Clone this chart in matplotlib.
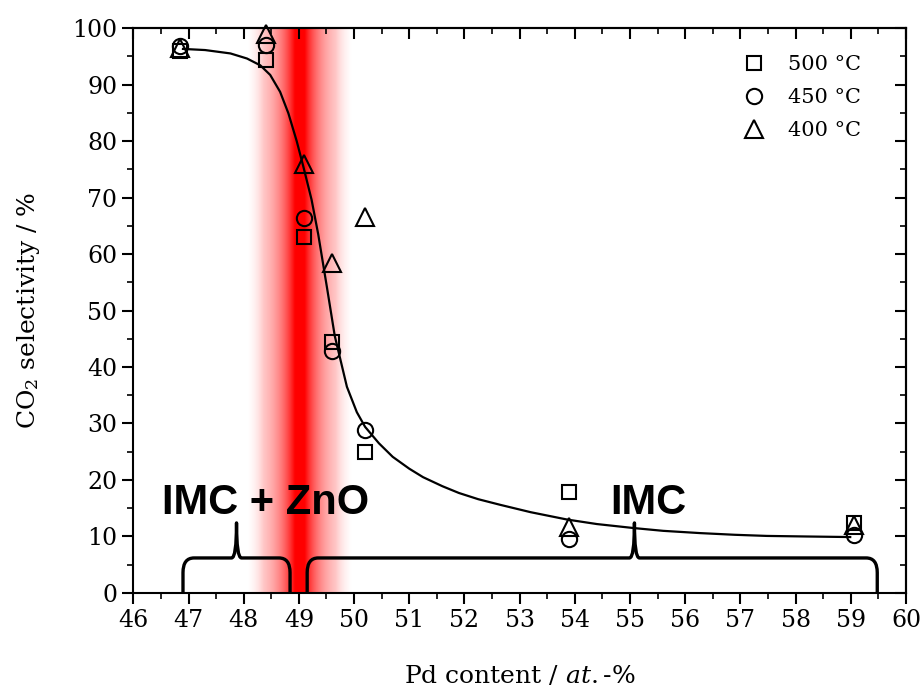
import matplotlib
matplotlib.use('Agg')
import matplotlib.pyplot as plt
import numpy as np
from matplotlib.path import Path
from matplotlib.patches import PathPatch

plt.rcParams['font.family'] = 'DejaVu Serif'
plt.rcParams['mathtext.fontset'] = 'dejavuserif'

# measured points: Pd content (at.-%) vs CO2 selectivity (%)
pd_content = [46.85, 48.4, 49.1, 49.6, 50.2, 53.9, 59.05]
sel_500 = [96.0, 94.4, 63.0, 44.4, 25.0, 17.9, 12.4]
sel_450 = [96.8, 97.0, 66.4, 42.8, 28.8, 9.6, 10.2]
sel_400 = [96.5, 99.0, 75.9, 58.4, 66.5, 11.7, 12.0]

# fitted trend line
fit_x = [46.9, 47.3, 47.76, 48.06, 48.3, 48.48, 48.66, 48.81, 48.96, 49.08, 49.23,
         49.35, 49.51, 49.65, 49.87, 50.05, 50.2, 50.45, 50.7, 51.0, 51.25, 51.6,
         51.9, 52.25, 52.65, 53.2, 53.86, 54.4, 55.06, 55.6, 56.27, 56.9, 57.48,
         58.2, 58.99]
fit_y = [96.3, 96.1, 95.5, 94.6, 93.4, 91.7, 88.7, 84.9, 80.0, 75.5, 69.6,
         63.5, 54.0, 45.5, 36.5, 32.0, 29.4, 26.5, 24.1, 22.0, 20.5, 18.9,
         17.7, 16.6, 15.6, 14.3, 13.0, 12.2, 11.5, 11.0, 10.6, 10.3, 10.1,
         10.0, 9.9]

# phase regions (start, tip, end) for the braces
regions = [(46.9, 47.87, 48.84), (49.15, 55.08, 59.48)]
region_labels = ['IMC + ZnO', 'IMC']
label_x = [48.4, 55.33]

band_center = 49.02

fig = plt.figure(figsize=(9.22, 6.90), dpi=100)
ax = fig.add_axes([0.1446, 0.1406, 0.838, 0.8188])

# red boundary band: narrow solid core with a soft fade
xs = np.linspace(47.9, 50.2, 600)
d = np.abs(xs - band_center)
alpha = np.exp(-(d - 0.09) / 0.38) * np.clip((0.95 - d) / 0.3, 0, 1)
alpha[d < 0.09] = 1.0
img = np.zeros((1, len(xs), 4))
img[..., 0] = 1.0
img[..., 3] = np.clip(alpha, 0, 1)
ax.imshow(img, extent=[xs[0], xs[-1], 0, 100], aspect='auto', zorder=0,
          interpolation='bilinear')

ax.plot(fit_x, fit_y, color='black', lw=1.6, zorder=2, solid_joinstyle='round')

mk = dict(linestyle='none', mfc='none', mec='black', mew=1.5, zorder=3, clip_on=False)
ax.plot(pd_content, sel_500, marker='s', ms=10, label='500 °C', **mk)
ax.plot(pd_content, sel_450, marker='o', ms=11, label='450 °C', **mk)
ax.plot(pd_content, sel_400, marker='^', ms=13, label='400 °C', **mk)


def brace(x0, xm, x1, h=6.2, tip=12.4, rx=0.2, ry=2.6, tx=0.09):
    verts = [(x0, 0), (x0, h - ry), (x0, h), (x0 + rx, h),
             (xm - tx, h), (xm, h), (xm, tip), (xm, h), (xm + tx, h),
             (x1 - rx, h), (x1, h), (x1, h - ry), (x1, 0)]
    codes = [Path.MOVETO, Path.LINETO, Path.CURVE3, Path.CURVE3,
             Path.LINETO, Path.CURVE3, Path.CURVE3, Path.CURVE3, Path.CURVE3,
             Path.LINETO, Path.CURVE3, Path.CURVE3, Path.LINETO]
    return PathPatch(Path(verts, codes), fill=False, lw=2.4, color='black',
                     zorder=4, capstyle='butt', joinstyle='round')


for (a, m, b), lab, lx in zip(regions, region_labels, label_x):
    ax.add_patch(brace(a, m, b))
    ax.text(lx, 13.9, lab, ha='center', va='baseline', fontsize=30,
            fontweight='bold', family='Liberation Sans', zorder=5)

ax.set_xlim(46, 60)
ax.set_ylim(0, 100)
ax.set_xticks(np.arange(46, 61, 1))
ax.set_xticks(np.arange(46, 60, 0.5), minor=True)
ax.set_yticks(np.arange(0, 101, 10))
ax.set_yticks(np.arange(0, 100, 5), minor=True)
ax.tick_params(which='major', direction='out', length=8, width=1.5, labelsize=17)
ax.tick_params(which='minor', direction='out', length=4, width=1.2)

top = ax.secondary_xaxis('top')
top.set_xticks(np.arange(46, 61, 1))
top.set_xticks(np.arange(46, 60, 0.5), minor=True)
top.tick_params(which='major', direction='in', length=8, width=1.5, labeltop=False)
top.tick_params(which='minor', direction='in', length=4, width=1.2)
right = ax.secondary_yaxis('right')
right.set_yticks(np.arange(0, 101, 10))
right.set_yticks(np.arange(0, 100, 5), minor=True)
right.tick_params(which='major', direction='in', length=8, width=1.5, labelright=False)
right.tick_params(which='minor', direction='in', length=4, width=1.2)

for s in ax.spines.values():
    s.set_linewidth(1.5)
top.spines['top'].set_linewidth(1.5)
right.spines['right'].set_linewidth(1.5)

ax.set_xlabel(r'Pd content / $\mathit{at.}$-$\mathit{\%}$', fontsize=18, labelpad=23)
ax.set_ylabel(r'CO$_2$ selectivity / %', fontsize=18, labelpad=22)

ax.legend(loc='upper right', frameon=False, fontsize=15, handletextpad=0.65,
          labelspacing=0.68, bbox_to_anchor=(0.961, 0.978), borderaxespad=0.3)

fig.savefig('out.png', dpi=100)
